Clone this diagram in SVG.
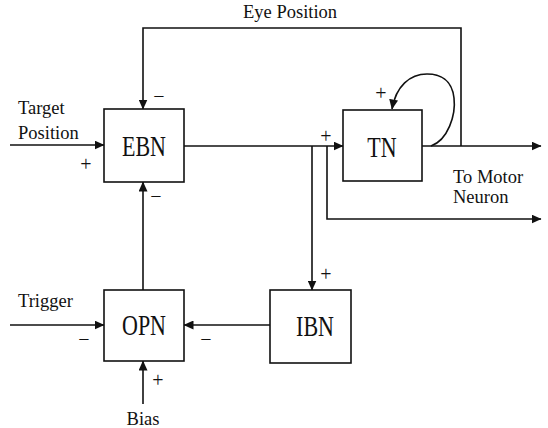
<svg xmlns="http://www.w3.org/2000/svg" width="548" height="428" viewBox="0 0 548 428">
  <style>
    .box { fill: #fff; stroke: #111; stroke-width: 1.6; }
    .wire { fill: none; stroke: #111; stroke-width: 1.6; }
    .node-label { font-family: "Liberation Serif", "Times New Roman", serif; font-size: 22px; fill: #111; text-anchor: middle; }
    .label { font-family: "Liberation Serif", "Times New Roman", serif; font-size: 18.5px; fill: #111; }
    .sign { font-family: "Liberation Serif", "Times New Roman", serif; font-size: 20px; fill: #111; text-anchor: middle; }
  </style>
  <defs>
    <marker id="arrow" markerWidth="10" markerHeight="9" refX="9.5" refY="4.5" orient="auto" markerUnits="userSpaceOnUse">
      <path d="M0,0 L10,4.5 L0,9 Z" fill="#111"/>
    </marker>
  </defs>

  <g id="connectors">
    <!-- external inputs -->
    <path class="wire" d="M10 145 H104" marker-end="url(#arrow)"/>
    <path class="wire" d="M10 325 H104" marker-end="url(#arrow)"/>
    <path class="wire" d="M143 404 V361" marker-end="url(#arrow)"/>
    <!-- EBN to TN -->
    <path class="wire" d="M184 146 H343" marker-end="url(#arrow)"/>
    <!-- TN output -->
    <path class="wire" d="M422 146 H541" marker-end="url(#arrow)"/>
    <!-- eye position feedback -->
    <path class="wire" d="M461 146 V28 H143 V109" marker-end="url(#arrow)"/>
    <!-- TN self loop -->
    <path class="wire" d="M431 146 C448 140, 456 115, 454 98 C452 80, 440 74, 427 74 C410 74, 396 86, 392 109" marker-end="url(#arrow)"/>
    <!-- branch to IBN -->
    <path class="wire" d="M312 146 V290" marker-end="url(#arrow)"/>
    <!-- branch to motor neuron -->
    <path class="wire" d="M327 146 V219 H541" marker-end="url(#arrow)"/>
    <!-- IBN to OPN -->
    <path class="wire" d="M270 325 H184" marker-end="url(#arrow)"/>
    <!-- OPN to EBN -->
    <path class="wire" d="M143 290 V182" marker-end="url(#arrow)"/>
  </g>

  <g id="EBN">
    <rect class="box" x="104" y="109" width="80" height="73"/>
    <text class="node-label" transform="translate(144,156) scale(1,1.3)">EBN</text>
  </g>
  <g id="TN">
    <rect class="box" x="343" y="110" width="79" height="71"/>
    <text class="node-label" transform="translate(382,156.5) scale(1,1.3)">TN</text>
  </g>
  <g id="OPN">
    <rect class="box" x="104" y="290" width="80" height="71"/>
    <text class="node-label" transform="translate(144,335) scale(1,1.3)">OPN</text>
  </g>
  <g id="IBN">
    <rect class="box" x="270" y="290" width="81" height="73"/>
    <text class="node-label" transform="translate(315,336) scale(1,1.3)">IBN</text>
  </g>

  <g id="labels">
    <text class="label" x="18" y="114">Target</text>
    <text class="label" x="18" y="139">Position</text>
    <text class="label" x="243" y="18">Eye Position</text>
    <text class="label" x="453" y="183">To Motor</text>
    <text class="label" x="453" y="203">Neuron</text>
    <text class="label" x="18" y="307">Trigger</text>
    <text class="label" x="143" y="425" text-anchor="middle">Bias</text>
  </g>

  <g id="signs">
    <text class="sign" x="86" y="171">+</text>
    <text class="sign" x="159" y="103">−</text>
    <text class="sign" x="156" y="203">−</text>
    <text class="sign" x="326" y="143">+</text>
    <text class="sign" x="381" y="100">+</text>
    <text class="sign" x="326" y="281">+</text>
    <text class="sign" x="84" y="346">−</text>
    <text class="sign" x="206" y="346">−</text>
    <text class="sign" x="158" y="387">+</text>
  </g>
</svg>
